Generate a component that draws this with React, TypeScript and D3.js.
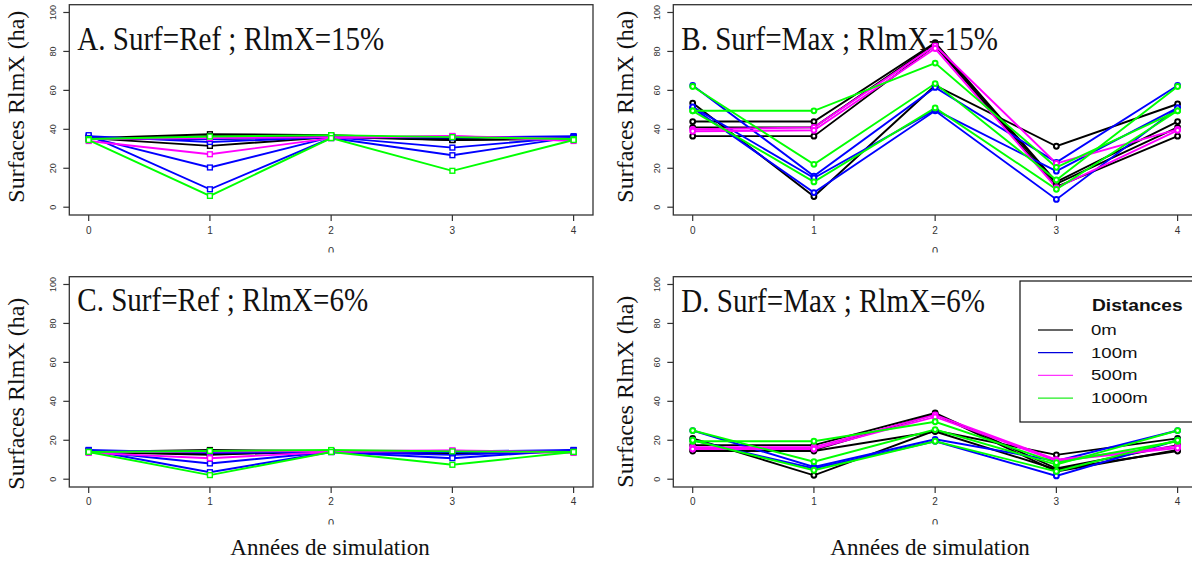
import React from "react";
import * as d3 from "d3";

// ---------- data ----------
const years = [0, 1, 2, 3, 4];
const yTicks = [0, 20, 40, 60, 80, 100];
const distances = ["0m", "100m", "500m", "1000m"];
const distanceColors = ["#000000", "#0000ff", "#ff00ff", "#00ff00"];
const legendColors = ["#333333", "#0000dd", "#ff33ff", "#22ee22"];

// Panel A : Surf=Ref ; RlmX=15%
const A_0m = [
  [35.5, 37.5, 37, 35, 35.5],
  [35, 36.5, 36.5, 34.5, 35],
  [35.5, 31.5, 36, 35.5, 35.5],
  [35, 35, 36, 34.5, 35.5],
];
const A_100m = [
  [36.5, 33.5, 36, 35.8, 36.5],
  [36, 20.4, 36, 30.6, 36],
  [37, 9.2, 35.5, 26.7, 36],
  [35.5, 35, 36, 36, 35.5],
];
const A_500m = [
  [34, 27.2, 35.5, 36.6, 34],
  [35, 35.5, 36, 36.5, 35],
];
const A_1000m = [
  [35, 36.3, 37, 36, 35],
  [34.5, 5.8, 35.5, 18.7, 34.5],
];

// Panel B : Surf=Max ; RlmX=15%
const B_0m = [
  [53.5, 5.5, 62.5, 31.3, 53],
  [44, 44, 84.5, 13, 44],
  [41, 41, 84, 12, 41],
  [36.5, 36.5, 83, 10.5, 36.5],
];
const B_100m = [
  [62.5, 16, 61.5, 23, 62.5],
  [51, 7.5, 49.5, 4, 51],
  [51.5, 15, 50, 18.5, 51],
];
const B_500m = [
  [40, 41, 83, 22.5, 40],
  [39, 39.5, 81.5, 10, 39.5],
];
const B_1000m = [
  [62, 22, 63.5, 14, 62],
  [49.5, 49.5, 74, 20.5, 49.5],
  [49.5, 13, 51, 9.2, 49.5],
];

// Panel C : Surf=Ref ; RlmX=6%
const C_0m = [
  [14, 15, 14.5, 14, 14],
  [14.5, 14.5, 14, 13.2, 14.5],
  [14, 13, 14, 14, 14],
  [14, 12.5, 14.5, 13.5, 14],
];
const C_100m = [
  [15, 13.5, 14, 14.2, 15],
  [14.5, 8.1, 14, 12.5, 14.5],
  [15, 3.6, 14, 10.8, 15],
  [14.5, 14, 14.5, 14, 14.5],
];
const C_500m = [
  [13.5, 10.8, 14, 14.6, 13.5],
  [14, 14.2, 14.5, 14.8, 14],
];
const C_1000m = [
  [14, 14.5, 15, 14.3, 14],
  [14, 2.1, 14, 7.4, 14],
];

// Panel D : Surf=Max ; RlmX=6%
const D_0m = [
  [21, 2, 25, 12.5, 21],
  [17.5, 17.5, 34, 5.5, 17.5],
  [15, 15, 33.5, 4, 15],
  [14.5, 14.5, 24.5, 5, 14.5],
];
const D_100m = [
  [25, 6.3, 20.5, 9.4, 25],
  [20, 5.5, 19.5, 1.7, 20],
];
const D_500m = [
  [16.5, 16.5, 33, 10, 17],
  [15.5, 15.5, 32, 9.5, 16],
];
const D_1000m = [
  [25, 9, 25.5, 7.5, 25],
  [19.5, 19.5, 29.5, 8.5, 19.5],
  [20, 4.6, 19.5, 4, 20],
];

const panelTitles = [
  "A. Surf=Ref ; RlmX=15%",
  "B. Surf=Max ; RlmX=15%",
  "C. Surf=Ref ; RlmX=6%",
  "D. Surf=Max ; RlmX=6%",
];
const yLabel = "Surfaces RlmX (ha)";
const xLabel = "Années de simulation";
const legendTitle = "Distances";

// ---------- layout ----------
const W = 523.7;
const H = 210.3;
const SERIF = "'Liberation Serif', 'Times New Roman', Times, serif";
const SANS = "'Liberation Sans', Arial, Helvetica, sans-serif";

const xScale = d3.scaleLinear().domain([-0.16, 4.16]).range([0, W]);
const yScale = d3.scaleLinear().domain([-4, 104]).range([H, 0]);
const lineGen = d3
  .line<number>()
  .x((_, i) => xScale(years[i]))
  .y((d) => yScale(d));

type PanelProps = {
  id: string;
  left: number;
  top: number;
  title: string;
  titleY: number;
  ylabX: number;
  ylabY: number;
  tickLabelDy: number;
  groups: number[][][];
  marker: "square" | "circle";
};

function Panel(p: PanelProps) {
  const clipId = `clip-xlab-${p.id}`;
  return (
    <g transform={`translate(${p.left},${p.top})`}>
      {/* data */}
      {p.groups.map((lines, gi) =>
        lines.map((vals, li) => (
          <path
            key={`l-${gi}-${li}`}
            d={lineGen(vals) || ""}
            fill="none"
            stroke={distanceColors[gi]}
            strokeWidth={1.9}
          />
        ))
      )}
      {p.groups.map((lines, gi) =>
        lines.map((vals, li) =>
          vals.map((v, i) =>
            p.marker === "square" ? (
              <rect
                key={`m-${gi}-${li}-${i}`}
                x={xScale(years[i]) - 2.4}
                y={yScale(v) - 2.4}
                width={4.8}
                height={4.8}
                fill="#ffffff"
                stroke={distanceColors[gi]}
                strokeWidth={1.4}
              />
            ) : (
              <circle
                key={`m-${gi}-${li}-${i}`}
                cx={xScale(years[i])}
                cy={yScale(v)}
                r={2.4}
                fill="#ffffff"
                stroke={distanceColors[gi]}
                strokeWidth={2}
              />
            )
          )
        )
      )}
      {/* box */}
      <rect x={0} y={0} width={W} height={H} fill="none" stroke="#333" strokeWidth={1.3} />
      {/* y axis */}
      {yTicks.map((t) => (
        <g key={`yt-${t}`} transform={`translate(0,${yScale(t)})`}>
          <line x1={-6} x2={0} stroke="#333" strokeWidth={1.2} />
          <text
            transform={`translate(-13,0) rotate(-90)`}
            textAnchor="middle"
            fontFamily={SANS}
            fontSize={9}
            fill="#333"
          >
            {t}
          </text>
        </g>
      ))}
      {/* x axis */}
      {years.map((t) => (
        <g key={`xt-${t}`} transform={`translate(${xScale(t)},${H})`}>
          <line y1={0} y2={6} stroke="#333" strokeWidth={1.2} />
          <text
            y={p.tickLabelDy}
            textAnchor="middle"
            dominantBaseline="central"
            fontFamily={SANS}
            fontSize={10}
            fill="#333"
          >
            {t}
          </text>
        </g>
      ))}
      {/* clipped xlab remnant */}
      <clipPath id={clipId}>
        <rect x={0} y={H + 25} width={W} height={12.5} />
      </clipPath>
      <text
        x={W / 2}
        y={H + 40.5}
        textAnchor="middle"
        fontFamily={SANS}
        fontSize={11}
        fill="#333"
        clipPath={`url(#${clipId})`}
      >
        0
      </text>
      {/* title */}
      <text
        transform={`translate(8,${p.titleY}) scale(0.88,1)`}
        fontFamily={SERIF}
        fontSize={33}
        fill="#111"
      >
        {p.title}
      </text>
      {/* y label */}
      <text
        transform={`translate(${p.ylabX},${p.ylabY}) rotate(-90)`}
        textAnchor="middle"
        fontFamily={SERIF}
        fontSize={24}
        fill="#111"
      >
        {yLabel}
      </text>
    </g>
  );
}

export default function App() {
  const leftX = 69.3;
  const rightX = 673.3;
  const topY = 4.7;
  const botY = 276.7;
  return (
    <svg
      width={1192}
      height={563}
      viewBox="0 0 1192 563"
      style={{ position: "absolute", left: 0, top: 0, display: "block", background: "#fff" }}
    >
      <rect x={0} y={0} width={1192} height={563} fill="#fff" />
      <Panel
        id="A"
        left={leftX}
        top={topY}
        title={panelTitles[0]}
        titleY={44.8}
        ylabX={23.5 - leftX}
        ylabY={102}
        tickLabelDy={15.7}
        groups={[A_0m, A_100m, A_500m, A_1000m]}
        marker="square"
      />
      <Panel
        id="B"
        left={rightX}
        top={topY}
        title={panelTitles[1]}
        titleY={45.3}
        ylabX={632.7 - rightX}
        ylabY={102}
        tickLabelDy={15.7}
        groups={[B_0m, B_100m, B_500m, B_1000m]}
        marker="circle"
      />
      <Panel
        id="C"
        left={leftX}
        top={botY}
        title={panelTitles[2]}
        titleY={34}
        ylabX={23.5 - leftX}
        ylabY={117}
        tickLabelDy={14}
        groups={[C_0m, C_100m, C_500m, C_1000m]}
        marker="square"
      />
      <Panel
        id="D"
        left={rightX}
        top={botY}
        title={panelTitles[3]}
        titleY={35}
        ylabX={632.7 - rightX}
        ylabY={115}
        tickLabelDy={14}
        groups={[D_0m, D_100m, D_500m, D_1000m]}
        marker="circle"
      />
      {/* legend */}
      <g>
        <rect x={1020} y={281} width={220} height={141} fill="#fff" stroke="#111" strokeWidth={1.2} />
        <text
          transform="translate(1092,306) scale(1.2,1)"
          dominantBaseline="central"
          fontFamily={SANS}
          fontWeight="bold"
          fontSize={16}
          fill="#111"
        >
          {legendTitle}
        </text>
        {distances.map((d, i) => (
          <g key={d} transform={`translate(0,${330 + i * 22.7})`}>
            <line x1={1038} x2={1073} stroke={legendColors[i]} strokeWidth={1.3} />
            <text
              transform="translate(1091,0) scale(1.2,1)"
              dominantBaseline="central"
              fontFamily={SANS}
              fontSize={15.5}
              fill="#111"
            >
              {d}
            </text>
          </g>
        ))}
      </g>
      {/* x labels */}
      <text x={330} y={555} textAnchor="middle" fontFamily={SERIF} fontSize={23} fill="#111">
        {xLabel}
      </text>
      <text x={930} y={555} textAnchor="middle" fontFamily={SERIF} fontSize={23} fill="#111">
        {xLabel}
      </text>
    </svg>
  );
}
